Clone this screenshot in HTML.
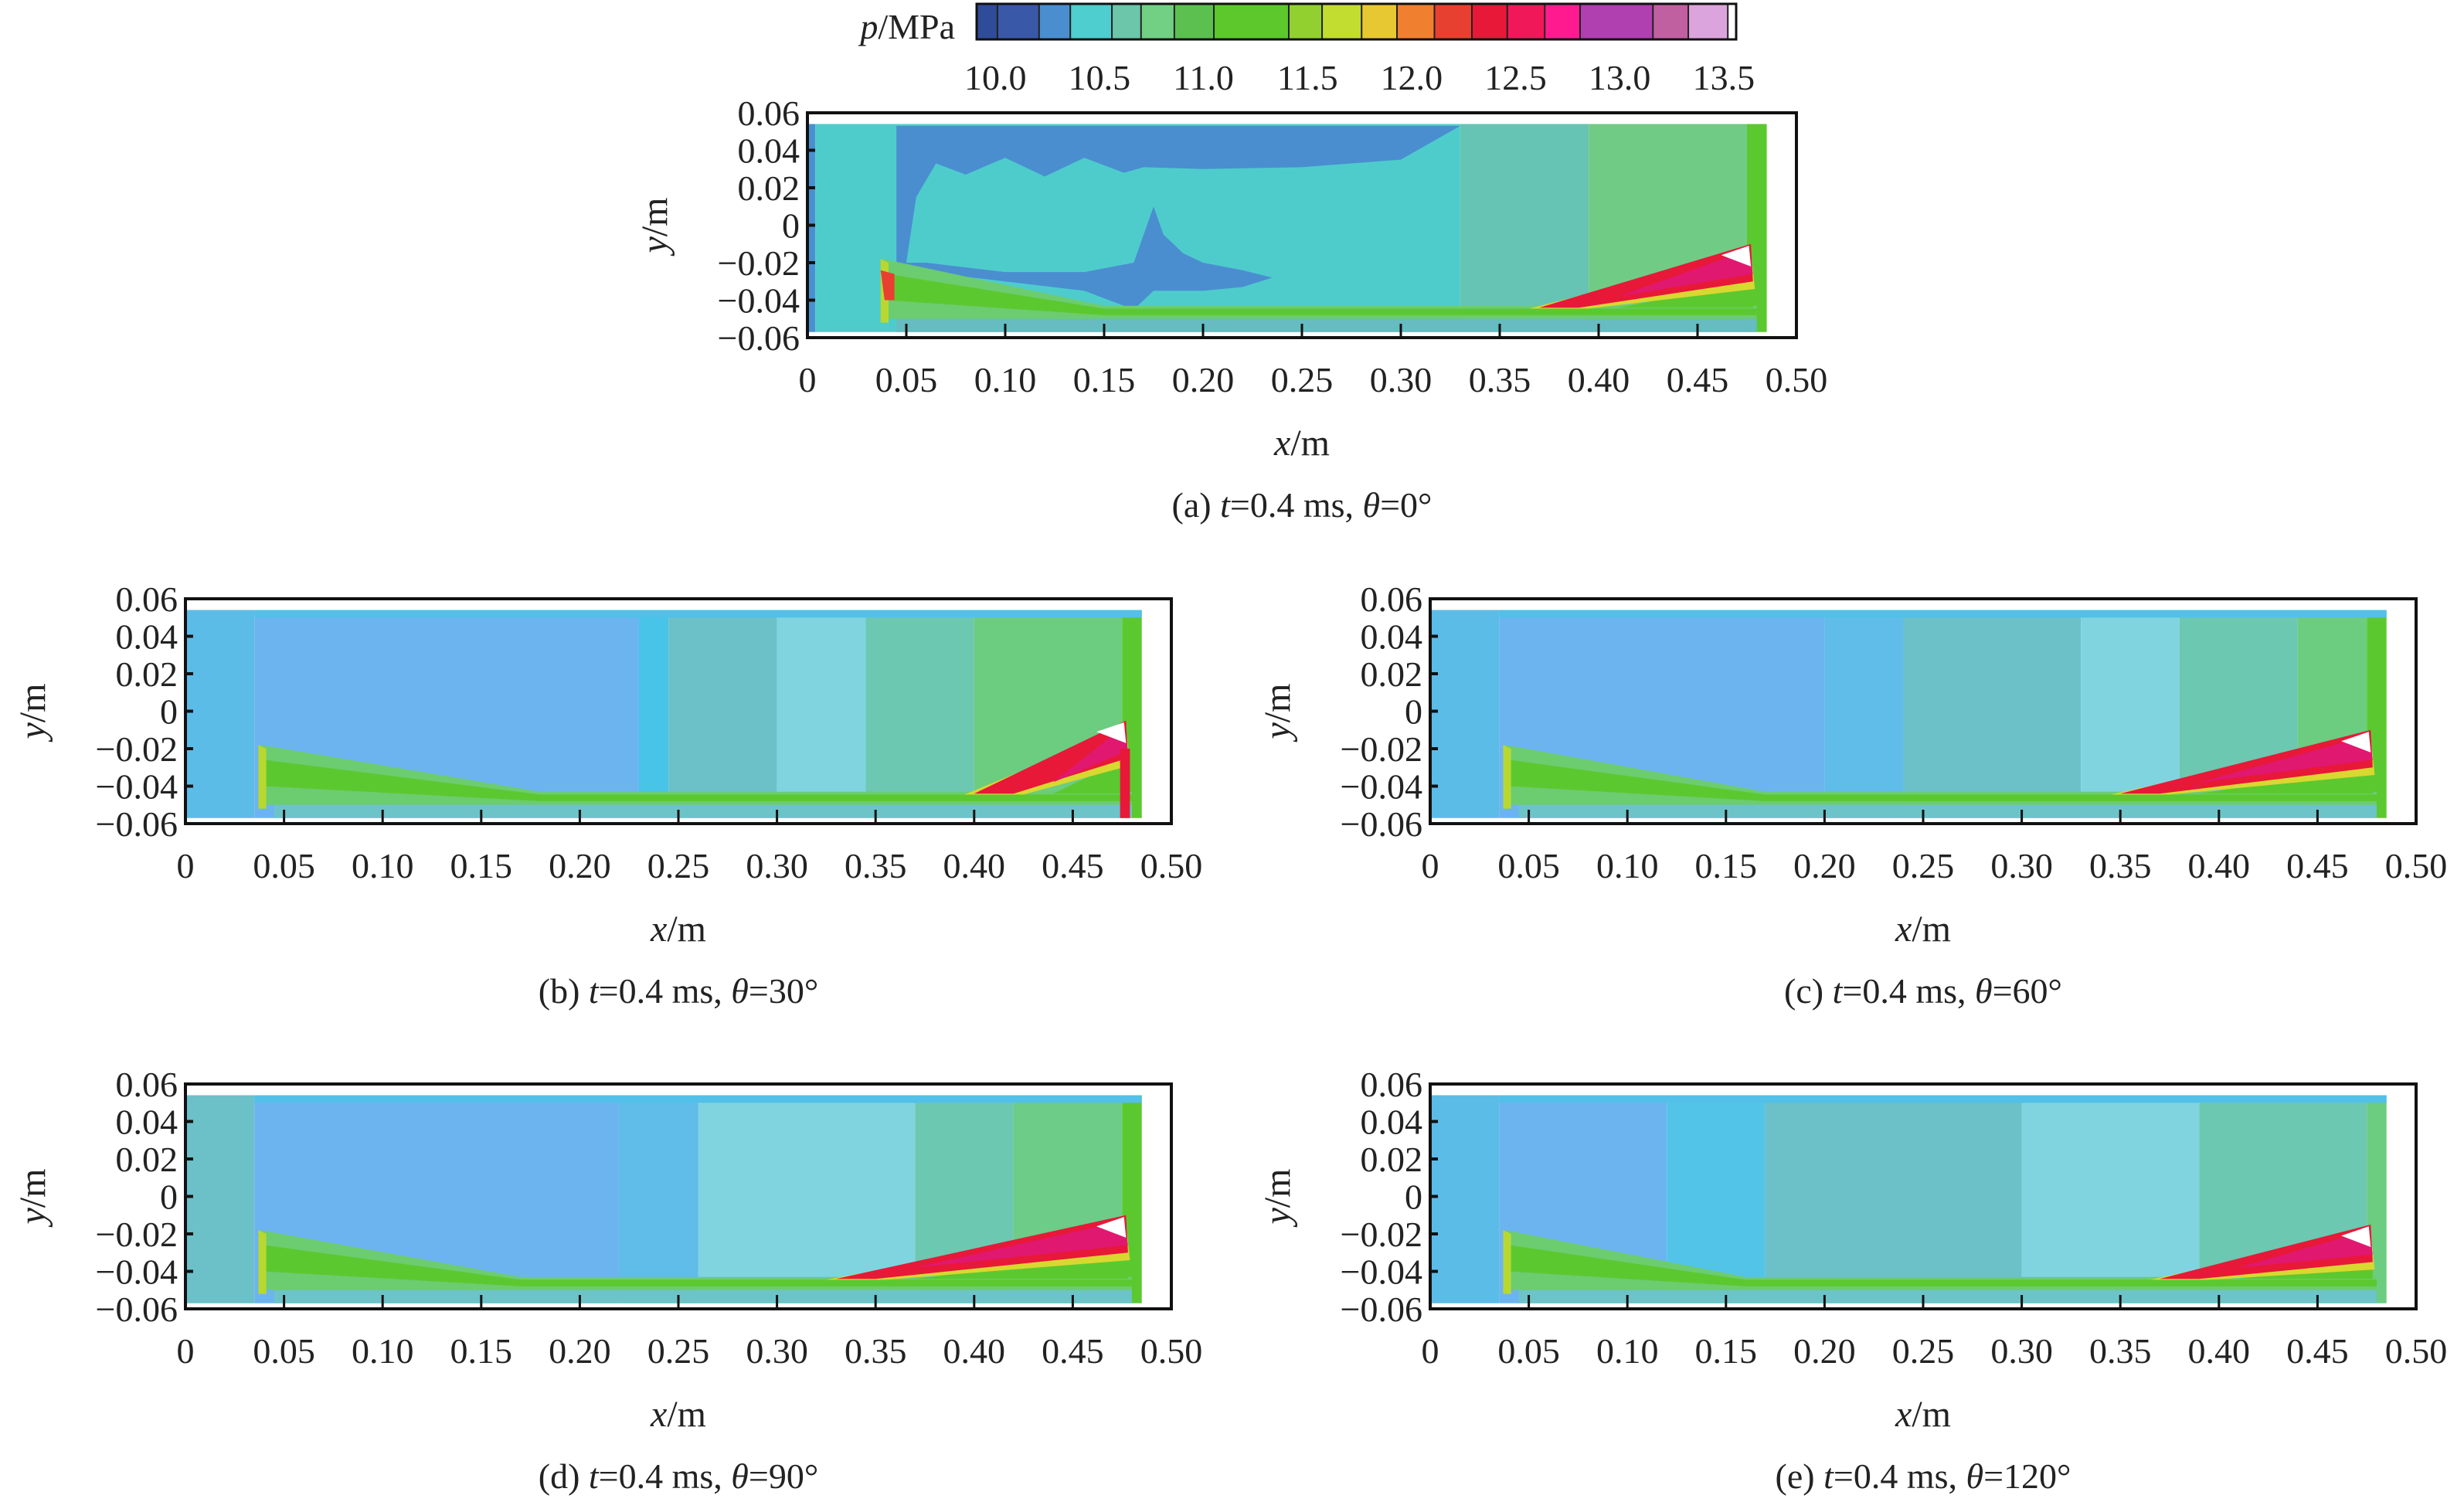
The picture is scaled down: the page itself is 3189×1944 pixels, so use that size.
<!DOCTYPE html>
<html><head><meta charset="utf-8">
<style>
html,body{margin:0;padding:0;background:#fff;}
svg{display:block;font-family:"Liberation Serif",serif;}
</style></head>
<body>
<svg id="fig" width="3189" height="1944" viewBox="0 0 3189 1944" xmlns="http://www.w3.org/2000/svg">
<rect x="0" y="0" width="3189" height="1944" fill="#ffffff"/>
</svg>
<script>
// ---- Colorbar data ----
const cbBounds = [9.91,10.01,10.21,10.36,10.56,10.70,10.86,11.05,11.41,11.57,11.76,11.93,12.11,12.29,12.46,12.64,12.81,13.16,13.33,13.52,13.56];
const cbColors = ["#2f4c98","#3a58a8","#4a8ed0","#4ecece","#6cc6aa","#72d084","#5cc050","#5cc82c","#92d030","#c2dc30","#e8c832","#f08030","#e84030","#e81838","#f01858","#ff1a90","#b040b0","#c060a0","#dca4dc","#ffffff"];
const cbTicks = [10.0,10.5,11.0,11.5,12.0,12.5,13.0,13.5];
const cbTickLabels = ["10.0","10.5","11.0","11.5","12.0","12.5","13.0","13.5"];

// ---- Axis ticks ----
const xTicks = [0,0.05,0.10,0.15,0.20,0.25,0.30,0.35,0.40,0.45,0.50];
const xTickLabels = ["0","0.05","0.10","0.15","0.20","0.25","0.30","0.35","0.40","0.45","0.50"];
const yTicks = [0.06,0.04,0.02,0,-0.02,-0.04,-0.06];
const yTickLabels = ["0.06","0.04","0.02","0","\u22120.02","\u22120.04","\u22120.06"];

// ---- Panel data (vertical zones: start x, color) ----
const zonesA = [[0,"#4a90d0"],[0.004,"#4ecccc"],[0.33,"#66c4b4"],[0.395,"#70cc84"],[0.475,"#5cc830"]];
const zonesB = [[0,"#5cbce8"],[0.035,"#6cb4f0"],[0.23,"#48c4e8"],[0.245,"#6cc0c8"],[0.3,"#80d4e0"],[0.345,"#6cc8b0"],[0.4,"#6ccc80"],[0.475,"#5cc830"]];
const zonesC = [[0,"#5cbce8"],[0.035,"#6cb4f0"],[0.2,"#60bce8"],[0.24,"#6cc0c8"],[0.33,"#80d4e0"],[0.38,"#6cc8b0"],[0.44,"#6ccc80"],[0.475,"#5cc830"]];
const zonesD = [[0,"#6cc0c8"],[0.035,"#6cb4f0"],[0.22,"#60bce8"],[0.26,"#80d4e0"],[0.37,"#6cc8b0"],[0.42,"#6ccc88"],[0.475,"#5cc830"]];
const zonesE = [[0,"#5cbce8"],[0.035,"#6cb4f0"],[0.12,"#52c4e8"],[0.17,"#6cc0c8"],[0.3,"#80d4e0"],[0.39,"#6cc8b0"],[0.475,"#6ccc80"]];
const bandKinkX = [0.15,0.18,0.17,0.17,0.16];
const wedgeStartX = [0.37,0.4,0.35,0.33,0.37];
const wedgeTipY = [-0.01,-0.005,-0.01,-0.01,-0.015];
const blueTopA = [[0.045,0.053],[0.33,0.053],[0.3,0.035],[0.25,0.031],[0.2,0.03],[0.17,0.031],[0.16,0.028],[0.14,0.036],[0.12,0.026],[0.1,0.036],[0.08,0.027],[0.065,0.033],[0.055,0.015],[0.05,-0.02],[0.045,-0.02]];
const blueLowA = [[0.045,-0.02],[0.06,-0.025],[0.1,-0.03],[0.14,-0.035],[0.165,-0.045],[0.175,-0.035],[0.2,-0.035],[0.22,-0.033],[0.235,-0.028],[0.22,-0.024],[0.2,-0.02],[0.19,-0.015],[0.18,-0.005],[0.175,0.01],[0.17,-0.005],[0.165,-0.02],[0.14,-0.025],[0.1,-0.025],[0.06,-0.02]];

const panels = [
 {id:"a",L:1045,R:2325,T:146,B:437,zones:zonesA,cap:["(a) ","t","=0.4 ms, ","\u03b8","=0\u00b0"]},
 {id:"b",L:240,R:1516,T:775,B:1066,zones:zonesB,cap:["(b) ","t","=0.4 ms, ","\u03b8","=30\u00b0"]},
 {id:"c",L:1851,R:3127,T:775,B:1066,zones:zonesC,cap:["(c) ","t","=0.4 ms, ","\u03b8","=60\u00b0"]},
 {id:"d",L:240,R:1516,T:1403,B:1694,zones:zonesD,cap:["(d) ","t","=0.4 ms, ","\u03b8","=90\u00b0"]},
 {id:"e",L:1851,R:3127,T:1403,B:1694,zones:zonesE,cap:["(e) ","t","=0.4 ms, ","\u03b8","=120\u00b0"]}
];

const NS="http://www.w3.org/2000/svg";
const svg=document.getElementById("fig");
function mk(tag,attrs,parent){const e=document.createElementNS(NS,tag);for(const k in attrs)e.setAttribute(k,attrs[k]);(parent||svg).appendChild(e);return e;}

// ---- Colorbar ----
const cbG=mk("g",{});


const cbL=1264,cbR=2247,cbT=5,cbB=51;
const cbV0=cbBounds[0],cbV1=cbBounds[cbBounds.length-1];
function cbX(v){return cbL+(v-cbV0)/(cbV1-cbV0)*(cbR-cbL);}
for(let i=0;i<cbColors.length;i++){
  const r=mk("rect",{x:cbX(cbBounds[i]),y:cbT,width:cbX(cbBounds[i+1])-cbX(cbBounds[i])+0.5,height:cbB-cbT,fill:cbColors[i],stroke:"#222","stroke-width":2},cbG);
  
  
}
mk("rect",{x:cbL,y:cbT,width:cbR-cbL,height:cbB-cbT,fill:"none",stroke:"#111","stroke-width":3},cbG);
for(let i=0;i<cbTicks.length;i++){
  const t=mk("text",{x:cbX(cbTicks[i]),y:116,"font-size":46,"text-anchor":"middle",fill:"#222"},cbG);
  t.textContent=cbTickLabels[i];
  
  
}
const cbt=mk("text",{x:1236,y:50,"font-size":46,"text-anchor":"end",fill:"#222"},cbG);


const ti=mk("tspan",{"font-style":"italic"},cbt);ti.textContent="p";
const tr=mk("tspan",{},cbt);tr.textContent="/MPa";

// ---- Panels ----
panels.forEach((p,pi)=>{
  const g=mk("g",{});
  
  
  const sx=v=>p.L+(v-0)/(0.5-0)*(p.R-p.L);
  const sy=v=>p.B-(v-(-0.06))/(0.12)*(p.B-p.T);
  const poly=(pts,fill,name)=>{const e=mk("polygon",{points:pts.map(q=>sx(q[0])+","+sy(q[1])).join(" "),fill:fill},g);return e;};
  const xEnd=0.485, yTop=0.054, yBot=-0.057;
  p.zones.forEach((z,i)=>{
    const x0=z[0], x1=i+1<p.zones.length?p.zones[i+1][0]:xEnd;
    poly([[x0,yTop],[x1,yTop],[x1,yBot],[x0,yBot]],z[1],'contour-zone');
  });
  if(pi===0){
    poly(blueTopA,"#4a8ed0",'low-pressure-region');
    poly(blueLowA,"#4a8ed0",'low-pressure-region');
  } else {
    poly([[0.035,yTop],[xEnd,yTop],[xEnd,0.05],[0.035,0.05]],"#52c0e8",'top-boundary-zone');
  }
  const k=bandKinkX[pi];
  poly([[0.038,-0.018],[k,-0.043],[0.48,-0.043],[0.48,-0.05],[0.038,-0.05]],"#6ccc70",'wall-band');
  poly([[0.04,-0.026],[k,-0.0445],[0.48,-0.0445],[0.48,-0.048],[k,-0.048],[0.04,-0.04]],"#5cc830",'wall-band-core');
  poly([[0.045,-0.05],[0.48,-0.05],[0.48,yBot],[0.045,yBot]],pi===0?"#66bcc0":"#6cc4c8",'below-wall-zone');
  poly([[0.037,-0.018],[0.041,-0.02],[0.041,-0.052],[0.037,-0.052]],"#b8d830",'leading-edge-spot');
  if(pi===0) poly([[0.037,-0.024],[0.044,-0.026],[0.044,-0.04],[0.039,-0.04]],"#e84030",'leading-edge-spot');
  const x0=wedgeStartX[pi], ty=wedgeTipY[pi];
  poly([[0.4,-0.044],[0.478,-0.044],[0.478,ty-0.02],[x0+0.04,-0.044]],"#5cc830",'wedge-base');
  poly([[x0-0.005,-0.0445],[0.477,ty-0.004],[0.479,ty-0.024],[x0+0.025,-0.0445]],"#d8d830",'wedge-halo');
  poly([[x0,-0.044],[0.477,ty],[0.478,ty-0.02],[x0+0.02,-0.044]],"#e81838",'wedge-red');
  poly([[x0+0.04,-0.038],[0.476,ty-0.003],[0.478,ty-0.016]],"#e01870",'wedge-magenta');
  poly([[0.462,ty-0.006],[0.476,ty-0.001],[0.477,ty-0.012]],"#ffffff",'wedge-white');
  if(pi===1) poly([[0.474,-0.02],[0.479,-0.02],[0.479,yBot],[0.474,yBot]],"#e81838",'wedge-red-edge');
  const fr=mk("rect",{x:p.L,y:p.T,width:p.R-p.L,height:p.B-p.T,fill:"none",stroke:"#111","stroke-width":4},g);
  
  
  xTicks.forEach((v,i)=>{
    mk("line",{x1:sx(v),x2:sx(v),y1:p.B,y2:p.B-18,stroke:"#111","stroke-width":3},g);
    const t=mk("text",{x:sx(v),y:p.B+70,"font-size":46,"text-anchor":"middle",fill:"#222"},g);
    t.textContent=xTickLabels[i];
    
    
  });
  yTicks.forEach((v,i)=>{
    mk("line",{x1:p.L,x2:p.L+10,y1:sy(v),y2:sy(v),stroke:"#111","stroke-width":4},g);
    const t=mk("text",{x:p.L-10,y:sy(v)+16,"font-size":46,"text-anchor":"end",fill:"#222"},g);
    t.textContent=yTickLabels[i];
    
    
  });
  const xm=(p.L+p.R)/2;
  const xt=mk("text",{x:xm,y:p.B+152,"font-size":48,"text-anchor":"middle",fill:"#222"},g);
  
  
  mk("tspan",{"font-style":"italic"},xt).textContent="x";
  mk("tspan",{},xt).textContent="/m";
  const yc=(p.T+p.B)/2, yx=p.L-182;
  const yt=mk("text",{x:yx,y:yc,"font-size":48,"text-anchor":"middle",fill:"#222",transform:"rotate(-90 "+yx+" "+yc+")"},g);
  
  
  mk("tspan",{"font-style":"italic"},yt).textContent="y";
  mk("tspan",{},yt).textContent="/m";
  const cp=mk("text",{x:xm,y:p.B+232,"font-size":46,"text-anchor":"middle",fill:"#222"},g);
  
  
  p.cap.forEach((s,i)=>{const ts=mk("tspan",(i===1||i===3)?{"font-style":"italic"}:{},cp);ts.textContent=s;});
});
</script>
</body></html>
